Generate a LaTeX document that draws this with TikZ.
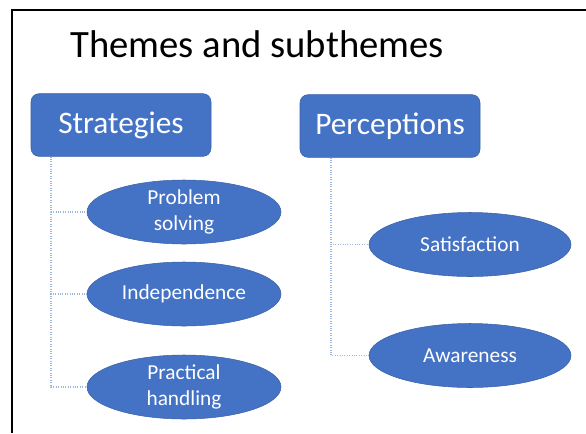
\documentclass[tikz,border=0pt]{standalone}
\usepackage{fontspec}
\setmainfont{Carlito}
\usetikzlibrary{shapes.geometric}

\definecolor{themeblue}{HTML}{4472C4}
\definecolor{linkblue}{HTML}{9DB5E0}

\begin{document}
\begin{tikzpicture}[x=0.75pt, y=-0.75pt,
  theme/.style={draw=themeblue!85!black, fill=themeblue, rounded corners=6pt, text=white,
    minimum width=135pt, minimum height=47pt, inner sep=0pt, font=\fontsize{23.5}{27}\selectfont},
  subtheme/.style={ellipse, draw=themeblue!85!black, fill=themeblue, text=white,
    minimum width=145.5pt, minimum height=48pt, inner sep=0pt, align=center,
    font=\fontsize{16}{19}\selectfont},
  link/.style={draw=linkblue, densely dotted, line width=0.8pt}]

  \useasboundingbox (0,0) rectangle (586,433);

  % Rahmen
  \draw[line width=2.2pt] (12,433) -- (12,10) -- (586,10);

  % Titel
  \node[anchor=base west, inner sep=0pt, font=\fontsize{29}{35}\selectfont] (title) at (70,57) {Themes and subthemes};

  % Themen
  \node[theme] (strat) at (121,125) {Strategies};
  \node[theme] (perc) at (390,126) {Perceptions};

  % Subthemen
  \node[subtheme] (prob) at (184,212) {Problem\\solving};
  \node[subtheme] (indep) at (184,294) {Independence};
  \node[subtheme] (pract) at (184,387) {Practical\\handling};
  \node[subtheme, minimum width=151.5pt] (satis) at (470,244.5) {Satisfaction};
  \node[subtheme, minimum width=151.5pt] (aware) at (470,355.5) {Awareness};

  % Verbindungen
  \coordinate (s0) at (51,0);
  \coordinate (p0) at (331,0);
  \draw[link] (strat.south -| s0) |- (prob.west);
  \draw[link] (strat.south -| s0) |- (indep.west);
  \draw[link] (strat.south -| s0) |- (pract.west);
  \draw[link] (perc.south -| p0) |- (satis.west);
  \draw[link] (perc.south -| p0) |- (aware.west);

\end{tikzpicture}
\end{document}
